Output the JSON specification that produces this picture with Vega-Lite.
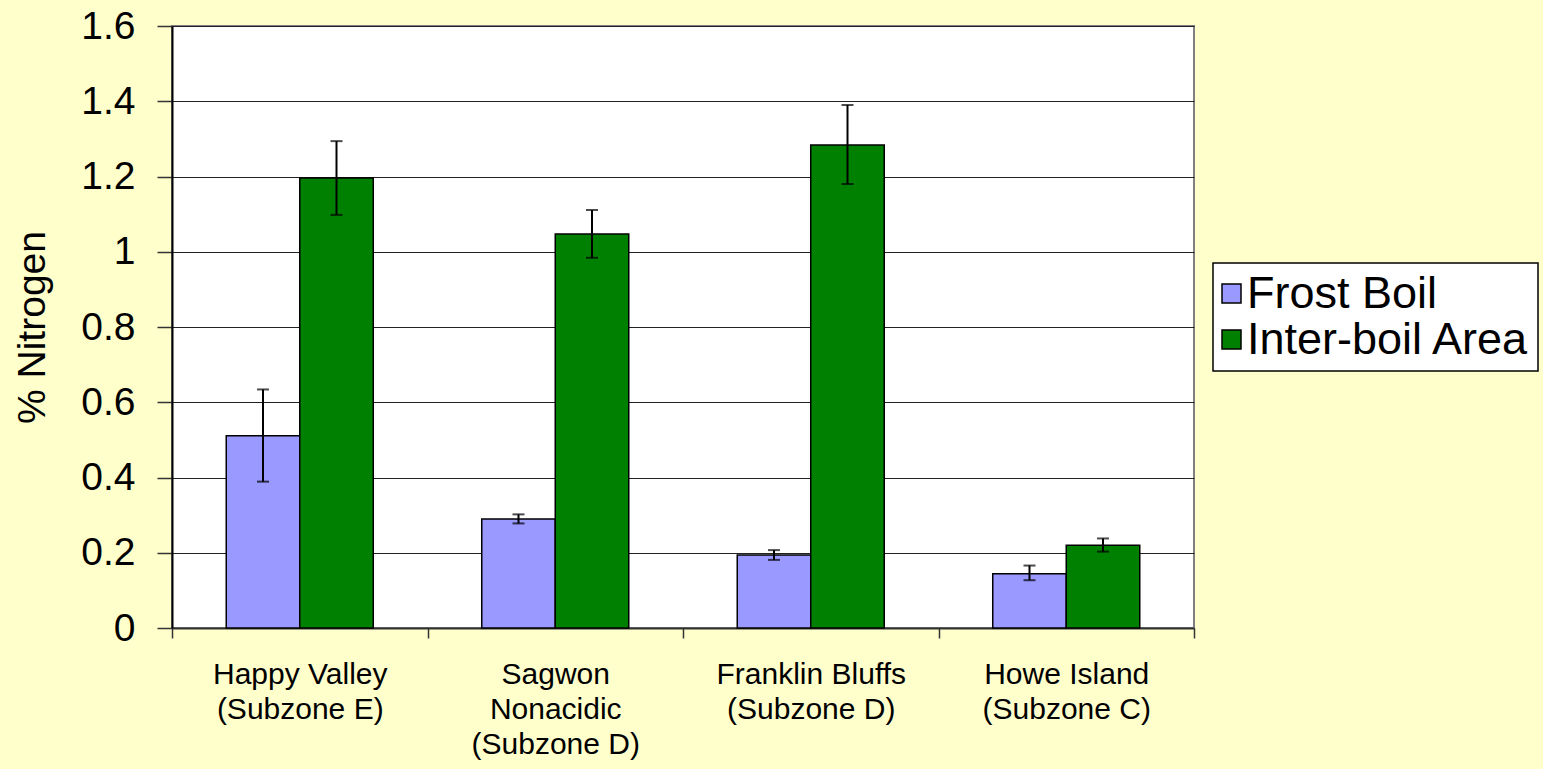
{
  "$schema": "https://vega.github.io/schema/vega-lite/v6.json",
  "autosize": "none",
  "width": 1022,
  "height": 602,
  "padding": {"left": 172, "top": 26, "right": 349, "bottom": 141},
  "background": "#FFFFCC",
  "config": {
    "font": "Liberation Sans",
    "view": {"fill": "white", "stroke": "#808080", "strokeWidth": 2}
  },
  "data": {
    "values": [
      {"site": "Happy Valley|(Subzone E)", "series": "Frost Boil", "value": 0.511, "lo": 0.389, "hi": 0.634},
      {"site": "Happy Valley|(Subzone E)", "series": "Inter-boil Area", "value": 1.196, "lo": 1.098, "hi": 1.294},
      {"site": "Sagwon|Nonacidic|(Subzone D)", "series": "Frost Boil", "value": 0.290, "lo": 0.278, "hi": 0.302},
      {"site": "Sagwon|Nonacidic|(Subzone D)", "series": "Inter-boil Area", "value": 1.047, "lo": 0.984, "hi": 1.111},
      {"site": "Franklin Bluffs|(Subzone D)", "series": "Frost Boil", "value": 0.194, "lo": 0.181, "hi": 0.207},
      {"site": "Franklin Bluffs|(Subzone D)", "series": "Inter-boil Area", "value": 1.284, "lo": 1.180, "hi": 1.390},
      {"site": "Howe Island|(Subzone C)", "series": "Frost Boil", "value": 0.144, "lo": 0.127, "hi": 0.166},
      {"site": "Howe Island|(Subzone C)", "series": "Inter-boil Area", "value": 0.220, "lo": 0.203, "hi": 0.238}
    ]
  },
  "encoding": {
    "x": {
      "field": "site", "type": "nominal", "sort": null,
      "scale": {"paddingInner": 0, "paddingOuter": 0},
      "axis": {
        "title": null, "labelAngle": 0, "tickBand": "extent", "grid": false,
        "labelExpr": "split(datum.label, '|')",
        "labelFontSize": 30, "labelColor": "#000", "labelLineHeight": 35, "labelLimit": 400,
        "labelPadding": 21, "tickSize": 10, "tickColor": "#333", "tickWidth": 1.5,
        "domainColor": "#333", "domainWidth": 2
      }
    },
    "xOffset": {"field": "series", "type": "nominal", "scale": {"paddingInner": 0, "paddingOuter": 0.738}}
  },
  "layer": [
    {
      "mark": {"type": "bar", "stroke": "#000", "strokeWidth": 1.5},
      "encoding": {
        "y": {
          "field": "value", "type": "quantitative",
          "scale": {"domain": [0, 1.6], "nice": false},
          "axis": {
            "title": "% Nitrogen", "titleFontSize": 39, "titleFontWeight": "normal", "titleColor": "#000",
            "titlePadding": 28,
            "values": [0, 0.2, 0.4, 0.6, 0.8, 1, 1.2, 1.4, 1.6],
            "format": "~g",
            "labelFontSize": 39, "labelColor": "#000", "labelPadding": 22,
            "tickSize": 15, "tickColor": "#333", "tickWidth": 1.5,
            "domainColor": "#000", "domainWidth": 2,
            "grid": true, "gridColor": "#222", "gridWidth": 1.2
          }
        },
        "fill": {
          "field": "series", "type": "nominal",
          "scale": {"domain": ["Frost Boil", "Inter-boil Area"], "range": ["#9999FF", "#008000"]},
          "legend": {
            "title": null, "orient": "none", "legendX": 1041, "legendY": 237,
            "fillColor": "white", "strokeColor": "#000",
            "padding": 8, "rowPadding": 0,
            "symbolType": "square", "symbolSize": 361, "symbolStrokeColor": "#000", "symbolStrokeWidth": 1.5,
            "symbolOffset": -12,
            "labelFontSize": 45, "labelColor": "#000", "labelOffset": -7, "labelLimit": 500,
            "encode": {"legend": {"update": {"strokeWidth": {"value": 1.5}}}}
          }
        }
      }
    },
    {
      "mark": {"type": "rule", "color": "#000", "strokeWidth": 2},
      "encoding": {
        "y": {"field": "lo", "type": "quantitative"},
        "y2": {"field": "hi"}
      }
    },
    {
      "mark": {"type": "tick", "color": "#000", "thickness": 2, "size": 12},
      "encoding": {"y": {"field": "lo", "type": "quantitative"}}
    },
    {
      "mark": {"type": "tick", "color": "#000", "thickness": 2, "size": 12},
      "encoding": {"y": {"field": "hi", "type": "quantitative"}}
    }
  ]
}
